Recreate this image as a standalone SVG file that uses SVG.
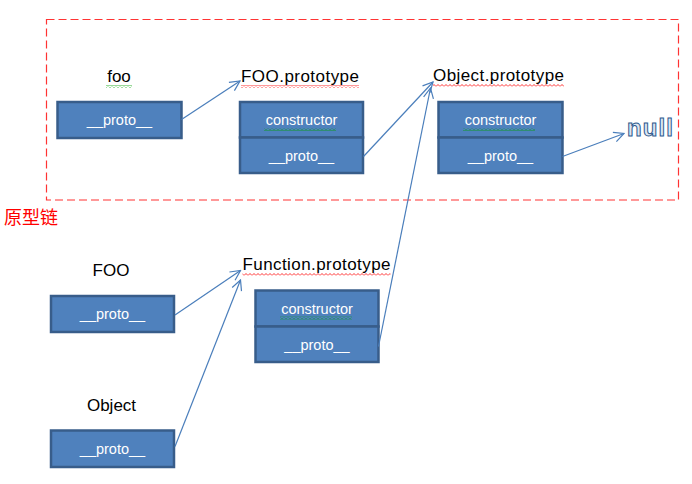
<svg xmlns="http://www.w3.org/2000/svg" width="692" height="484" viewBox="0 0 692 484">
<style>
.cell{fill:#4F81BD;stroke:#385D8A;stroke-width:2.5}
.in{font-family:"Liberation Sans",Arial,sans-serif;font-size:14.5px;fill:#ffffff;text-anchor:middle}
.lbl{font-family:"Liberation Sans",Arial,sans-serif;font-size:17px;fill:#000000}
.conn{stroke:#4A7EBB;stroke-width:1.2;fill:none;marker-end:url(#arr)}
</style>
<defs>
<marker id="arr" viewBox="0 0 12 12" refX="11" refY="6" markerWidth="12" markerHeight="12" markerUnits="userSpaceOnUse" orient="auto">
<path d="M1,1 L11,6 L1,11" fill="none" stroke="#4A7EBB" stroke-width="1.2"/>
</marker>
<pattern id="wr" width="4" height="3" patternUnits="userSpaceOnUse"><path d="M0,2.5 L2,0.5 L4,2.5" fill="none" stroke="#FF0000" stroke-width="0.8"/></pattern>
<pattern id="wg" width="4" height="3" patternUnits="userSpaceOnUse"><path d="M0,2.5 L2,0.5 L4,2.5" fill="none" stroke="#00A000" stroke-width="0.8"/></pattern>
</defs>

<rect id="chain" x="46.5" y="19.5" width="632" height="180.5" fill="none" stroke="#FF3333" stroke-width="1.2" stroke-dasharray="8,4"/>
<text x="4" y="224" font-family="'Liberation Sans','Noto Sans CJK SC',sans-serif" font-size="18" fill="#FF0000">原型链</text>

<g id="foo">
<text class="lbl" x="119" y="82" text-anchor="middle">foo</text>
<rect x="106" y="85" width="26" height="3" fill="url(#wg)"/>
<rect class="cell" x="57.5" y="102" width="124" height="36"/>
<text class="in" x="119.5" y="125">__proto__</text>
</g>

<g id="FOO.prototype">
<text class="lbl" x="241" y="82" textLength="118">FOO.prototype</text>
<rect x="241" y="85" width="118" height="3" fill="url(#wr)"/>
<rect class="cell" x="240" y="102" width="123" height="35.5"/>
<rect class="cell" x="240" y="137.5" width="123" height="35.5"/>
<text class="in" x="301.5" y="125">constructor</text>
<rect x="264" y="128" width="72" height="3" fill="url(#wg)"/>
<text class="in" x="301.5" y="160.5">__proto__</text>
</g>

<g id="Object.prototype">
<text class="lbl" x="433" y="81" textLength="131">Object.prototype</text>
<rect x="433" y="84" width="131" height="3" fill="url(#wr)"/>
<rect class="cell" x="438.5" y="102" width="124" height="35.5"/>
<rect class="cell" x="438.5" y="137.5" width="124" height="35.5"/>
<text class="in" x="500.5" y="125">constructor</text>
<rect x="463" y="128" width="72" height="3" fill="url(#wg)"/>
<text class="in" x="500.5" y="160.5">__proto__</text>
</g>

<g id="null">
<text x="627" y="136" font-family="'Liberation Sans',Arial,sans-serif" font-size="24" font-weight="bold" fill="#DCE6F2" stroke="#2E5A8E" stroke-width="1" textLength="46">null</text>
</g>

<g id="FOO">
<text class="lbl" x="111" y="276" text-anchor="middle">FOO</text>
<rect class="cell" x="51" y="296" width="123" height="36"/>
<text class="in" x="112.5" y="319">__proto__</text>
</g>

<g id="Function.prototype">
<text class="lbl" x="242.5" y="270" textLength="148">Function.prototype</text>
<rect x="242.5" y="273" width="148" height="3" fill="url(#wr)"/>
<rect class="cell" x="255.5" y="290.5" width="123" height="36"/>
<rect class="cell" x="255.5" y="326.5" width="123" height="35.5"/>
<text class="in" x="317" y="313.5">constructor</text>
<rect x="280" y="316.5" width="72" height="3" fill="url(#wg)"/>
<text class="in" x="317" y="350">__proto__</text>
</g>

<g id="Object">
<text class="lbl" x="111.5" y="411" text-anchor="middle">Object</text>
<rect class="cell" x="51" y="430.5" width="123" height="36.5"/>
<text class="in" x="112.5" y="454">__proto__</text>
</g>

<g id="connectors">
<line class="conn" x1="181.5" y1="119.5" x2="240" y2="81"/>
<line class="conn" x1="363.5" y1="156.5" x2="433" y2="82"/>
<line class="conn" x1="378.5" y1="346.5" x2="430.5" y2="88"/>
<line class="conn" x1="562.5" y1="156.5" x2="624" y2="133.5"/>
<line class="conn" x1="175" y1="315" x2="240.5" y2="270.5"/>
<line class="conn" x1="175" y1="446.5" x2="240.5" y2="280"/>
</g>
</svg>
